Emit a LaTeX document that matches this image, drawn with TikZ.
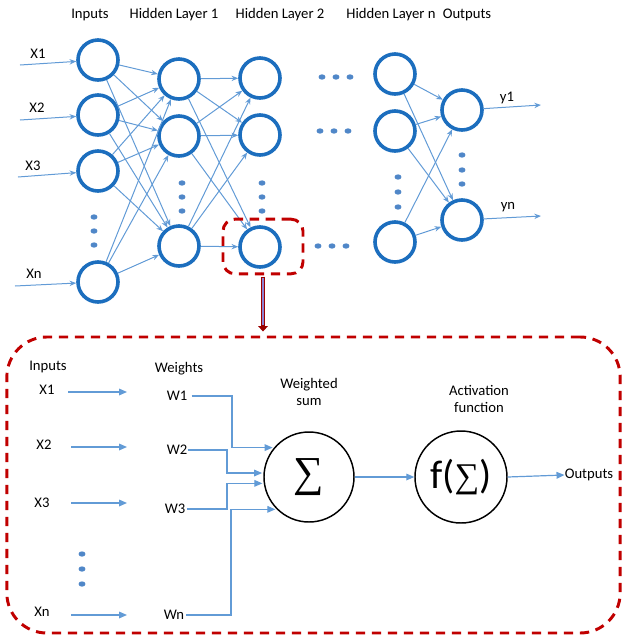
\documentclass[tikz,border=0pt]{standalone}
\usepackage{fontspec}
\setmainfont{Carlito}
\newfontfamily\serifsym{Liberation Serif}
\usetikzlibrary{arrows.meta,shapes.geometric}
\definecolor{nblue}{RGB}{28,110,190}
\definecolor{lblue}{RGB}{98,155,214}
\definecolor{dotblue}{RGB}{80,135,200}
\definecolor{dred}{RGB}{192,0,0}
\definecolor{lilac}{RGB}{140,130,210}
\begin{document}
\begin{tikzpicture}[x=0.75pt,y=-0.75pt,
  neuron/.style={circle,draw=nblue,line width=2.7pt,minimum size=30pt,inner sep=0pt},
  conn/.style={draw=lblue,line width=0.75pt,-{Stealth[length=5pt,width=4pt]}},
  dotn/.style={ellipse,fill=dotblue,minimum width=5.2pt,minimum height=4pt,inner sep=0pt},
  lbl/.style={font=\fontsize{11}{13}\selectfont,inner sep=0pt},
  barr/.style={draw=lblue,line width=0.9pt,-{Triangle[length=6pt,width=5pt]}},
  bigc/.style={circle,draw=black,line width=1.1pt,inner sep=0pt},
  redbox/.style={draw=dred,line width=2.2pt,dash pattern=on 7pt off 5pt,inner sep=0pt}]
\useasboundingbox (0,0) rectangle (623,637);

% headers
\node[lbl] (hin) at (90,15) {Inputs};
\node[lbl] (hh1) at (174,15) {Hidden Layer 1};
\node[lbl] (hh2) at (280,15) {Hidden Layer 2};
\node[lbl] (hhn) at (391,15) {Hidden Layer n};
\node[lbl] (hout) at (467,15) {Outputs};

% neurons
\node[neuron] (i1) at (98,60) {};
\node[neuron] (i2) at (98,115) {};
\node[neuron] (i3) at (98,171) {};
\node[neuron] (i4) at (98,282) {};
\node[neuron] (h1) at (179,79) {};
\node[neuron] (h2) at (179,136) {};
\node[neuron] (h3) at (179,246) {};
\node[neuron] (g1) at (260,78) {};
\node[neuron] (g2) at (260,135) {};
\node[neuron] (g3) at (260,247) {};
\node[neuron] (n1) at (395,74) {};
\node[neuron] (n2) at (395,131) {};
\node[neuron] (n3) at (395,242) {};
\node[neuron] (o1) at (462,110) {};
\node[neuron] (o2) at (462,220) {};

% dots
\node[dotn] (di1) at (94,217) {};
\node[dotn] (di2) at (94,231) {};
\node[dotn] (di3) at (94,245) {};
\node[dotn] (dh1) at (182,183) {};
\node[dotn] (dh2) at (182,197) {};
\node[dotn] (dh3) at (182,211) {};
\node[dotn] (dg1) at (262,183) {};
\node[dotn] (dg2) at (262,197) {};
\node[dotn] (dg3) at (262,211) {};
\node[dotn] (dn1) at (398,177) {};
\node[dotn] (dn2) at (398,192) {};
\node[dotn] (dn3) at (398,207) {};
\node[dotn] (do1) at (462,155) {};
\node[dotn] (do2) at (462,170) {};
\node[dotn] (do3) at (462,184) {};
\node[dotn] (ra1) at (322,77) {};
\node[dotn] (ra2) at (336,77) {};
\node[dotn] (ra3) at (350,77) {};
\node[dotn] (rb1) at (320,131) {};
\node[dotn] (rb2) at (334,131) {};
\node[dotn] (rb3) at (348,131) {};
\node[dotn] (rc1) at (318,246) {};
\node[dotn] (rc2) at (332,246) {};
\node[dotn] (rc3) at (346,246) {};

% connections
\foreach \a in {i1,i2,i3,i4} \foreach \b in {h1,h2,h3} \draw[conn] (\a) -- (\b);
\foreach \a in {h1,h2,h3} \foreach \b in {g1,g2,g3} \draw[conn] (\a) -- (\b);
\foreach \a in {n1,n2,n3} \foreach \b in {o1,o2} \draw[conn] (\a) -- (\b);

% input labels and arrows
\node[lbl] (x1) at (38,54) {X1};
\node[lbl] (x2) at (37,108) {X2};
\node[lbl] (x3) at (33,166) {X3};
\node[lbl] (xn) at (34,274) {Xn};
\coordinate (s1) at (20,65);
\coordinate (s2) at (20,120);
\coordinate (s3) at (18,177);
\coordinate (s4) at (15,286);
\draw[conn] (s1) -- (i1);
\draw[conn] (s2) -- (i2);
\draw[conn] (s3) -- (i3);
\draw[conn] (s4) -- (i4);

% outputs
\node[lbl] (y1) at (507,98) {y1};
\node[lbl] (yn) at (508,207) {yn};
\coordinate (e1) at (541,105);
\coordinate (e2) at (541,216);
\draw[conn] (o1) -- (e1);
\draw[conn] (o2) -- (e2);

% red boxes
\node[redbox,minimum width=60pt,minimum height=41pt,rounded corners=9pt] (zoom) at (263,246.5) {};
\node[redbox,minimum width=460pt,minimum height=222pt,rounded corners=30pt] (big) at (313.5,485) {};

% vertical block arrow
\draw[draw=dred!80!black,line width=3.6pt,-{Triangle[length=4pt,width=7pt]}] ([yshift=-1pt]zoom.south) -- ([yshift=3pt]zoom.south |- big.north);
\draw[draw=lilac,line width=2pt,shorten >=4pt] ([yshift=-2pt]zoom.south) -- ([yshift=4pt]zoom.south |- big.north);

% bottom labels
\node[lbl] (bin) at (48,367) {Inputs};
\node[lbl] (bwt) at (179,369) {Weights};
\node[lbl,align=center] (bws) at (309,392) {Weighted\\sum};
\node[lbl,align=center] (bact) at (479,399) {Activation\\function};
\node[lbl] (bx1) at (47,390) {X1};
\node[lbl] (bx2) at (44,445) {X2};
\node[lbl] (bx3) at (42,503) {X3};
\node[lbl] (bxn) at (42,612) {Xn};
\node[lbl] (bw1) at (177,396) {W1};
\node[lbl] (bw2) at (177,450) {W2};
\node[lbl] (bw3) at (175,509) {W3};
\node[lbl] (bwn) at (174,615) {Wn};
\node[dotn] (bd1) at (82,554) {};
\node[dotn] (bd2) at (82,569) {};
\node[dotn] (bd3) at (82,584) {};

\coordinate (a1s) at (68,392);  \coordinate (a1e) at (127,392);
\coordinate (a2s) at (71,447);  \coordinate (a2e) at (127,447);
\coordinate (a3s) at (71,503);  \coordinate (a3e) at (127,503);
\coordinate (a4s) at (71,615);  \coordinate (a4e) at (127,615);
\draw[barr] (a1s) -- (a1e);
\draw[barr] (a2s) -- (a2e);
\draw[barr] (a3s) -- (a3e);
\draw[barr] (a4s) -- (a4e);

% summation and activation
\node[bigc,minimum size=67.5pt] (sig) at (309,477) {\serifsym\fontsize{32}{32}\selectfont ∑};
\node[bigc,minimum size=69pt] (fsig) at (461,477) {\fontsize{30}{30}\selectfont f(\raisebox{1pt}{\serifsym\fontsize{26}{26}\selectfont ∑})};
\node[lbl] (bout) at (589,475) {Outputs};

\coordinate (k1) at (232,0);
\coordinate (k2) at (227,0);
\coordinate (k3) at (227,0);
\coordinate (k4) at (231,0);
\draw[barr,shorten <=3pt,shorten >=1pt] (bw1.east) -| (k1 |- sig.140) -- (sig.140);
\draw[barr,shorten >=1pt] (bw2.east) -| (k2 |- sig.175) -- (sig.175);
\draw[barr,shorten <=1pt,shorten >=1pt] (bw3.east) -| (k3 |- sig.188) -- (sig.188);
\draw[barr,shorten <=1pt,shorten >=1pt] (bwn.east) -| (k4 |- sig.225) -- (sig.225);
\draw[barr] (sig.east) -- (fsig.west);
\draw[barr] (fsig.east) -- (bout.west);
\end{tikzpicture}
\end{document}
